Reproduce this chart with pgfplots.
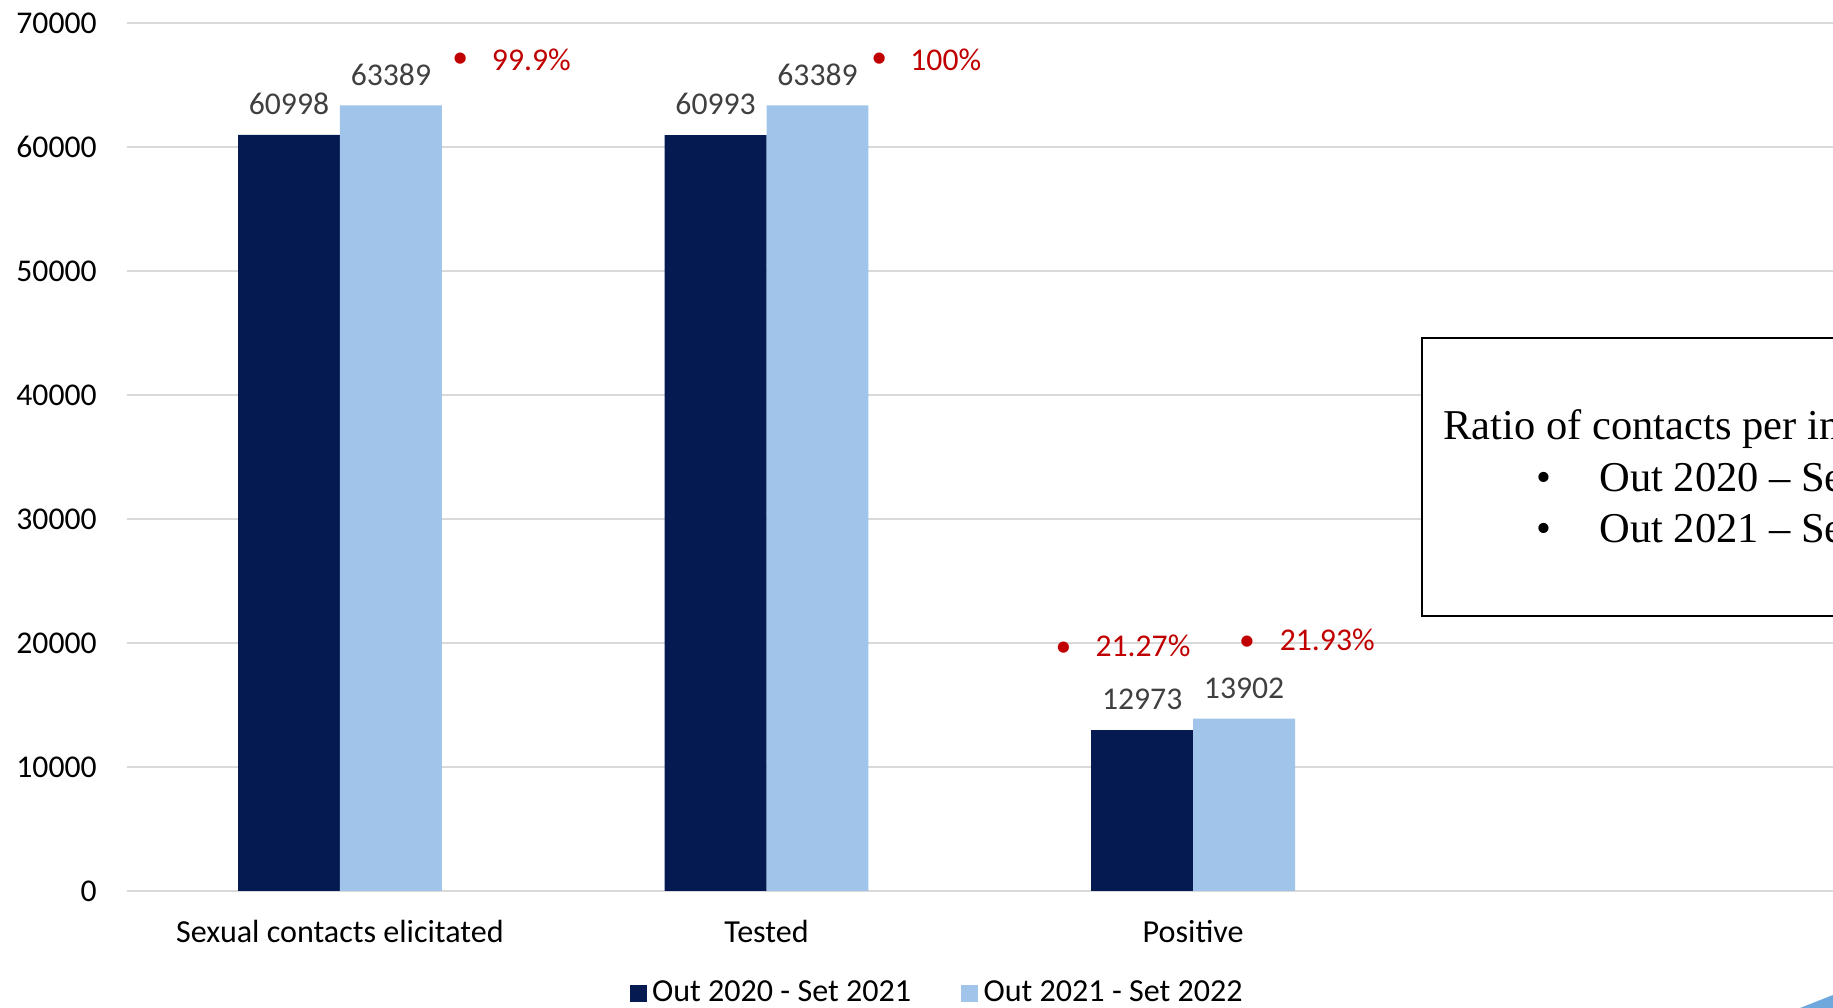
\documentclass[border=0pt]{standalone}
\usepackage{fontspec}
\setmainfont{Carlito}
\newfontfamily\timesf{Liberation Serif}
\usepackage{pgfplots}
\pgfplotsset{compat=1.18}
\definecolor{darkbar}{HTML}{041A50}
\definecolor{lightbar}{HTML}{A0C4EA}
\definecolor{gridc}{HTML}{D9D9D9}
\definecolor{labelc}{HTML}{404040}
\definecolor{redc}{HTML}{C00000}
\definecolor{shapec}{HTML}{6FA8DC}
\newcommand{\fs}{\fontsize{11.4}{13.7}\selectfont}
\begin{document}
\begin{tikzpicture}
\path[use as bounding box] (0,0) rectangle (659.88pt,362.88pt);
\clip (0,0) rectangle (659.88pt,362.88pt);
\begin{axis}[
  at={(45.6pt,42.12pt)}, anchor=south west,
  scale only axis, width=614.28pt, height=312.34pt,
  ybar=0pt, bar width=36.7pt,
  xmin=-0.5, xmax=3.5, ymin=0, ymax=70000,
  xtick={0,1,2},
  xticklabels={Sexual contacts elicitated, Tested, Positive},
  ytick={0,10000,20000,30000,40000,50000,60000,70000},
  scaled y ticks=false,
  /pgf/number format/1000 sep={},
  /pgf/number format/assume math mode=true,
  axis line style={draw=none},
  major tick length=0pt,
  ymajorgrids,
  major grid style={draw=gridc, line width=0.7pt},
  tick label style={font=\fs, text=black},
  yticklabel style={inner sep=0pt, xshift=-10.6pt},
  xticklabel style={anchor=base, inner sep=0pt, yshift=-18.4pt, font=\fontsize{11.55}{13.9}\selectfont},
  nodes near coords,
  every node near coord/.append style={anchor=base, inner sep=0pt, yshift=7.3pt, font=\fs, text=labelc},
  legend style={at={(0.476,-0.118)}, anchor=center, draw=none, fill=none,
    legend columns=2, font=\fontsize{11.55}{13.9}\selectfont, inner sep=0pt,
    /tikz/every even column/.append style={column sep=16pt}},
  legend image code/.code={\fill[#1,draw=none] (0pt,-3.1pt) rectangle (6.1pt,3.1pt);},
]
\addplot[fill=darkbar, draw=none] coordinates {(0,60998) (1,60993) (2,12973)};
\addplot[fill=lightbar, draw=none] coordinates {(0,63389) (1,63389) (2,13902)};
\legend{Out 2020 - Set 2021, Out 2021 - Set 2022}
\begin{scope}[every node/.style={inner sep=0pt, font=\fs, text=redc}]
\node[anchor=base] at (axis cs:0.282,66400) {•};
\node[anchor=base west] at (axis cs:0.355,66238) {99.9\%};
\node[anchor=base] at (axis cs:1.264,66400) {•};
\node[anchor=base west] at (axis cs:1.336,66238) {100\%};
\node[anchor=base] at (axis cs:1.696,18879) {•};
\node[anchor=base west] at (axis cs:1.770,18879) {21.27\%};
\node[anchor=base] at (axis cs:2.126,19363) {•};
\node[anchor=base west] at (axis cs:2.202,19363) {21.93\%};
\end{scope}
\end{axis}
% text box
\fill[white] (511.9pt,141.12pt) rectangle (690pt,241.2pt);
\draw[black, line width=0.55pt] (511.9pt,141.12pt) rectangle (690pt,241.2pt);
\begin{scope}[every node/.style={inner sep=0pt, font=\timesf\fontsize{15.3}{18}\selectfont, text=black}]
\node[anchor=base west] at (519.5pt,204.5pt) {Ratio of contacts per index case};
\node[anchor=base] at (555.8pt,185.8pt) {•};
\node[anchor=base west] at (575.6pt,185.8pt) {Out 2020 – Set 2021};
\node[anchor=base] at (555.8pt,167.4pt) {•};
\node[anchor=base west] at (575.6pt,167.4pt) {Out 2021 – Set 2022};
\end{scope}
% corner decoration
\fill[shapec] (648pt,0pt) -- (659.88pt,4.7pt) -- (659.88pt,0pt) -- cycle;
\end{tikzpicture}
\end{document}
